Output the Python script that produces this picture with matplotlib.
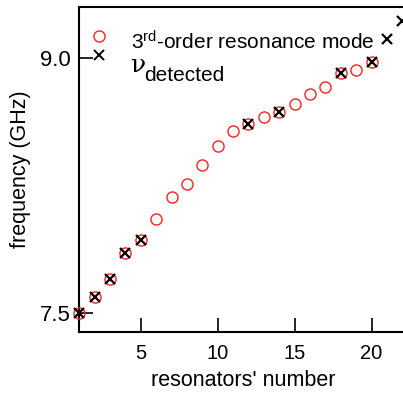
import matplotlib
matplotlib.use("Agg")
import matplotlib.pyplot as plt

# ── data ───────────────────────────────────────────────────────────────────
resonator = [1, 2, 3, 4, 5, 6, 7, 8, 9, 10,
             11, 12, 13, 14, 15, 16, 17, 18, 19, 20]
mode3 = [7.50, 7.59, 7.70, 7.85, 7.93, 8.05, 8.18, 8.26, 8.37, 8.48,
         8.57, 8.61, 8.65, 8.68, 8.73, 8.79, 8.83, 8.91, 8.93, 8.98]

det_resonator = [1, 2, 3, 4, 5, 12, 14, 18, 20, 21, 22]
det_freq = [7.50, 7.59, 7.70, 7.85, 7.93, 8.61, 8.68, 8.91, 8.98, 9.11, 9.22]

plt.rcParams.update({
    "font.family": ["Liberation Sans", "DejaVu Sans"],
    "mathtext.fontset": "custom",
    "mathtext.rm": "Liberation Sans",
    "mathtext.it": "Liberation Sans:italic",
})

fig = plt.figure(figsize=(4.03, 3.94), dpi=100)
ax = fig.add_axes([0.196, 0.1586, 0.814, 0.823])

ax.plot(resonator, mode3, "o", ms=8, mfc="none", mec="#ff2020", mew=1.0,
        clip_on=False, zorder=3)
ax.plot(det_resonator, det_freq, "x", ms=7, color="black", mew=1.6,
        clip_on=False, zorder=4)

ax.set_xlim(0.99, 22.3)
ax.set_ylim(7.388, 9.30)
ax.set_xticks([5, 10, 15, 20])
ax.set_yticks([7.5, 9.0])
ax.set_yticklabels(["7.5", "9.0"])
ax.tick_params(direction="in", length=10, width=1.2)
ax.tick_params(axis="x", labelsize=14.5, pad=9)
ax.tick_params(axis="y", labelsize=16, pad=6)
for s in ax.spines.values():
    s.set_linewidth(1.5)

ax.set_xlabel("resonators' number", fontsize=15.5, labelpad=5)
ax.set_ylabel("frequency (GHz)", fontsize=15.5, labelpad=6)

# ── hand-built legend ──
ax.plot([0.0605], [0.911], "o", ms=8, mfc="none", mec="#ff2020", mew=1.0,
        transform=ax.transAxes, clip_on=False)
ax.plot([0.0605], [0.854], "x", ms=7, color="black", mew=1.4,
        transform=ax.transAxes, clip_on=False)
fig.text(131 / 403, 1 - 50 / 394, r"3$^{\mathrm{rd}}$-order resonance mode",
         fontsize=15, ha="left", va="baseline")
fig.text(130 / 403, 1 - 72 / 394, "ν", fontsize=18, ha="left", va="baseline",
         family=["DejaVu Serif"])
fig.text(144 / 403, 1 - 81 / 394, "detected", fontsize=15, ha="left",
         va="baseline")

fig.savefig("out.png", dpi=100)
